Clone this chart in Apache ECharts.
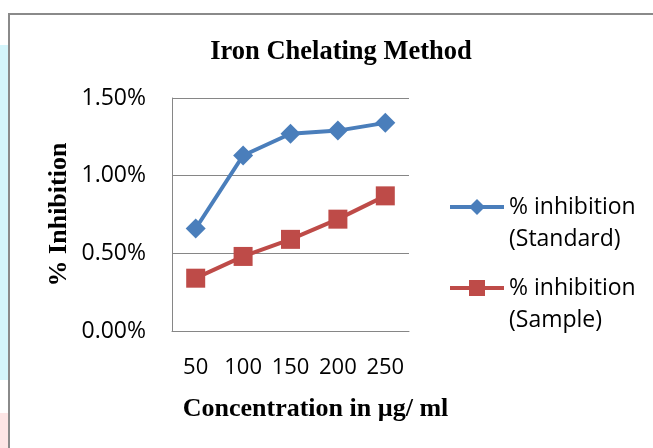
<!DOCTYPE html>
<html>
<head>
<meta charset="utf-8">
<script src="https://cdn.jsdelivr.net/npm/echarts@6/dist/echarts.min.js"></script>
<style>
  html, body { margin: 0; padding: 0; background: #fff; }
  #chart { width: 653px; height: 448px; }
</style>
</head>
<body>
<div id="chart"></div>
<script>
// 数据
const concentrations = ['50', '100', '150', '200', '250']
const standardValues = [0.66, 1.13, 1.27, 1.29, 1.34]
const sampleValues = [0.34, 0.48, 0.59, 0.72, 0.87]
const yTicks = [0, 0.5, 1.0, 1.5]

const serifBold = { fontFamily: 'Liberation Serif', fontWeight: 'bold', color: '#000', fontSize: 26 }
const sans = 'Open Sans'
const narrow = "'Liberation Sans Narrow', 'Open Sans'"

const chart = echarts.init(document.getElementById('chart'), null, { renderer: 'canvas' })

// 图例：前面加空行，让第一行文字对齐图标
const legendText = { fontFamily: sans, fontSize: 23, color: '#000', lineHeight: 32 }
const legendBase = {
  left: 443,
  orient: 'vertical',
  itemWidth: 54,
  itemHeight: 20,
  lineStyle: { width: 4 },
  textStyle: legendText,
  formatter: name => '\n' + name
}

const option = {
  backgroundColor: '#fff',
  animation: false,
  graphic: [
    { type: 'rect', shape: { x: 0, y: 45, width: 8, height: 335 }, style: { fill: '#d4f5fb' }, silent: true },
    { type: 'rect', shape: { x: 0, y: 413, width: 8, height: 40 }, style: { fill: '#fde5e5' }, silent: true },
    { type: 'rect', shape: { x: 9, y: 14, width: 700, height: 500 }, style: { fill: 'none', stroke: '#8a8a8a', lineWidth: 2 }, silent: true }
  ],
  title: {
    text: 'Iron Chelating Method',
    left: 336,
    textAlign: 'center',
    top: 34,
    textStyle: { ...serifBold, fontSize: 26.5 }
  },
  legend: [
    { ...legendBase, data: ['% inhibition\n(Standard)'], top: 154 },
    { ...legendBase, data: ['% inhibition\n(Sample)'], top: 235 }
  ],
  grid: {
    left: 172,
    top: 98,
    right: 244,
    bottom: 117,
    containLabel: false
  },
  xAxis: {
    type: 'category',
    data: concentrations,
    boundaryGap: true,
    name: 'Concentration in µg/ ml',
    nameLocation: 'middle',
    nameGap: 65,
    nameTextStyle: { ...serifBold, padding: [0, 0, 0, 50] },
    axisLine: { lineStyle: { color: '#868686', width: 1 } },
    axisTick: { show: false },
    axisLabel: { fontFamily: narrow, fontSize: 22, color: '#000', margin: 26, interval: 0 }
  },
  yAxis: {
    type: 'value',
    min: yTicks[0],
    max: yTicks[yTicks.length - 1],
    interval: 0.5,
    name: '% Inhibition',
    nameLocation: 'middle',
    nameGap: 100,
    nameTextStyle: serifBold,
    axisLine: { show: true, lineStyle: { color: '#868686', width: 1 } },
    axisTick: { show: false },
    splitLine: { lineStyle: { color: '#868686', width: 1 } },
    axisLabel: {
      fontFamily: narrow, fontSize: 23, color: '#000', margin: 26,
      formatter: v => v.toFixed(2) + '%'
    }
  },
  series: [
    {
      name: '% inhibition\n(Standard)',
      type: 'line',
      data: standardValues,
      symbol: 'diamond',
      symbolSize: 20,
      lineStyle: { width: 4, color: '#4a7ebb' },
      itemStyle: { color: '#4a7ebb' }
    },
    {
      name: '% inhibition\n(Sample)',
      type: 'line',
      data: sampleValues,
      symbol: 'rect',
      symbolSize: 19,
      lineStyle: { width: 4, color: '#be4b48' },
      itemStyle: { color: '#be4b48' }
    }
  ]
}

chart.setOption(option)
</script>
</body>
</html>
